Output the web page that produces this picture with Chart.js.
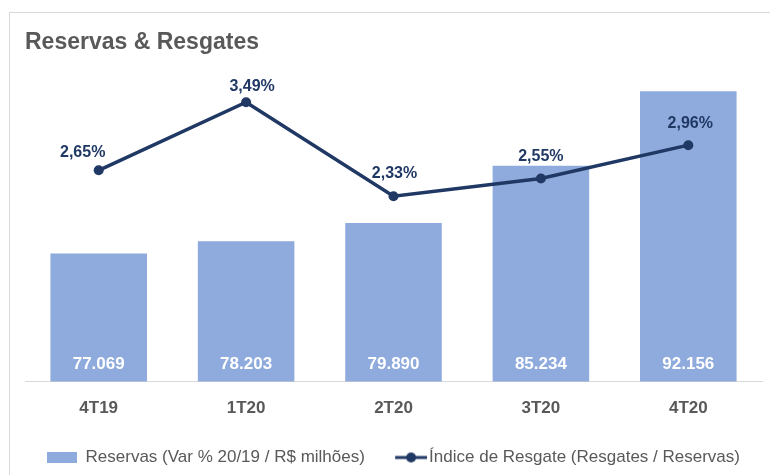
<!DOCTYPE html>
<html>
<head>
<meta charset="utf-8">
<script src="https://cdn.jsdelivr.net/npm/chart.js@4.4.1/dist/chart.umd.min.js"></script>
<style>
  html, body { margin: 0; padding: 0; background: #fff; }
</style>
</head>
<body>
<canvas id="myChart" width="770" height="475"></canvas>
<script>
const categories = ['4T19', '1T20', '2T20', '3T20', '4T20'];
const reservas = [77069, 78203, 79890, 85234, 92156];
const indice = [2.65, 3.49, 2.33, 2.55, 2.96];

const reservasLabel = 'Reservas (Var % 20/19 / R$ milhões)';
const indiceLabel = 'Índice de Resgate (Resgates / Reservas)';

// axis ranges
const barMin = 65150, barMax = 94261;
const lineMin = 0.045, lineMax = 3.904;

const barColor = '#8FAADC';
const lineColor = '#203864';
const grayText = '#595959';

// the % labels were nudged by hand in the original
const pctNudge = [[-16, -18], [6, -16], [1, -23], [0, -22], [2, -22]];

Chart.defaults.font.family = "'Liberation Sans', Arial, sans-serif";

// legend swatches
function makeSwatch(kind) {
    const c = document.createElement('canvas');
    if (kind == 'bar') {
        c.width = 30; c.height = 11;
        const g = c.getContext('2d');
        g.fillStyle = barColor;
        g.fillRect(0, 0, 30, 11);
    } else {
        // transparent left part so the line sits close to its text
        c.width = 43; c.height = 12;
        const g = c.getContext('2d');
        g.strokeStyle = lineColor;
        g.lineWidth = 3;
        g.beginPath();
        g.moveTo(11, 6); g.lineTo(43, 6);
        g.stroke();
        g.fillStyle = lineColor;
        g.beginPath();
        g.arc(27, 6, 5, 0, Math.PI * 2);
        g.fill();
    }
    return c;
}
const barSwatch = makeSwatch('bar');
const lineSwatch = makeSwatch('line');

const fmtMil = new Intl.NumberFormat('pt-BR');
const fmtPct = v => v.toFixed(2).replace('.', ',') + '%';

const labelPlugin = {
    id: 'valueLabels',
    beforeDraw(chart) {
        const c = chart.ctx;
        c.save();
        c.fillStyle = '#fff';
        c.fillRect(0, 0, chart.width, chart.height);
        c.strokeStyle = '#D9D9D9';
        c.lineWidth = 1;
        c.strokeRect(9.5, 12.5, chart.width, chart.height);
        c.restore();
    },
    afterDatasetsDraw(chart) {
        const c = chart.ctx;
        const bottom = chart.chartArea.bottom;
        c.save();
        c.textAlign = 'center';
        c.textBaseline = 'middle';

        const bars = chart.getDatasetMeta(0).data;
        c.fillStyle = '#ffffff';
        c.font = "bold 17px 'Liberation Sans', Arial, sans-serif";
        bars.forEach((bar, i) => {
            c.fillText(fmtMil.format(reservas[i]), bar.x, bottom - 17);
        });

        const pts = chart.getDatasetMeta(1).data;
        c.fillStyle = lineColor;
        c.font = "bold 16px 'Liberation Sans', Arial, sans-serif";
        pts.forEach((p, i) => {
            c.fillText(fmtPct(indice[i]), p.x + pctNudge[i][0], p.y + pctNudge[i][1]);
        });
        c.restore();
    }
};

const ctx = document.getElementById('myChart');

const myChart = new Chart(ctx, {
    type: 'bar',
    data: {
        labels: categories,
        datasets: [{
            type: 'bar',
            label: reservasLabel,
            data: reservas,
            backgroundColor: barColor,
            borderWidth: 0,
            categoryPercentage: 1,
            barPercentage: 0.655,
            yAxisID: 'y',
            order: 2
        }, {
            type: 'line',
            label: indiceLabel,
            data: indice,
            borderColor: lineColor,
            backgroundColor: lineColor,
            borderWidth: 3.5,
            pointRadius: 5,
            pointBackgroundColor: lineColor,
            pointBorderWidth: 0,
            tension: 0,
            yAxisID: 'y1',
            order: 1
        }]
    },
    options: {
        responsive: false,
        animation: false,
        layout: {
            padding: { left: 25, right: 8, top: 0, bottom: -1 }
        },
        scales: {
            x: {
                grid: { display: false },
                border: { display: true, color: '#D9D9D9', width: 1 },
                ticks: {
                    color: grayText,
                    padding: 9,
                    font: { size: 17, weight: 'bold' }
                }
            },
            y: {
                display: false,
                min: barMin,
                max: barMax
            },
            y1: {
                display: false,
                min: lineMin,
                max: lineMax
            }
        },
        plugins: {
            title: {
                display: true,
                text: 'Reservas & Resgates',
                align: 'start',
                color: grayText,
                font: { size: 23, weight: 'bold' },
                padding: { top: 29, bottom: 12 }
            },
            legend: {
                position: 'bottom',
                labels: {
                    color: grayText,
                    font: { size: 17 },
                    usePointStyle: true,
                    pointStyleWidth: 30,
                    padding: 21,
                    generateLabels: () => [
                        { text: reservasLabel + ' ', pointStyle: barSwatch, fontColor: grayText, lineWidth: 0, datasetIndex: 0 },
                        { text: indiceLabel, pointStyle: lineSwatch, fontColor: grayText, lineWidth: 0, datasetIndex: 1 }
                    ]
                }
            },
            tooltip: { enabled: false }
        }
    },
    plugins: [labelPlugin]
});
</script>
</body>
</html>
